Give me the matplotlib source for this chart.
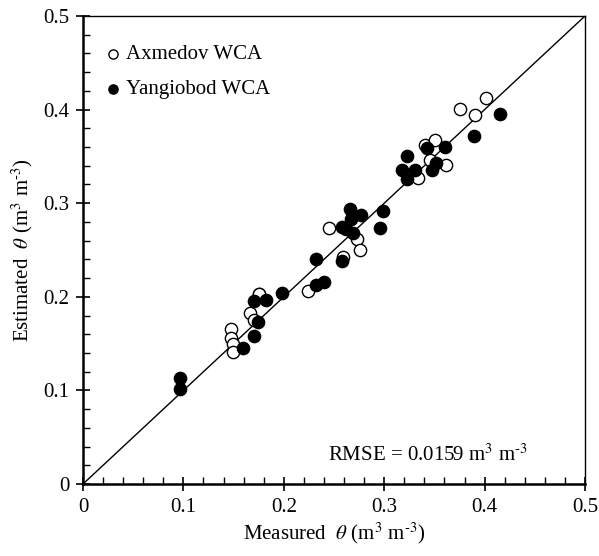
import matplotlib
matplotlib.use("Agg")
import matplotlib.pyplot as plt
from matplotlib.ticker import MultipleLocator

plt.rcParams["font.family"] = ["Liberation Serif", "DejaVu Serif"]
plt.rcParams["mathtext.fontset"] = "stix"

# Axmedov WCA (open circles): measured vs estimated soil moisture
axmedov_measured = [0.147, 0.147, 0.149, 0.149, 0.166, 0.170, 0.175, 0.175,
                    0.224, 0.245, 0.259, 0.273, 0.276, 0.334, 0.341, 0.346,
                    0.351, 0.362, 0.376, 0.390, 0.401]
axmedov_estimated = [0.166, 0.156, 0.150, 0.141, 0.183, 0.175, 0.203, 0.203,
                     0.206, 0.274, 0.242, 0.262, 0.250, 0.327, 0.362, 0.346,
                     0.368, 0.341, 0.401, 0.394, 0.412]

# Yangiobod WCA (filled circles)
yangiobod_measured = [0.097, 0.097, 0.159, 0.170, 0.170, 0.174, 0.182, 0.198,
                      0.232, 0.232, 0.240, 0.258, 0.258, 0.262, 0.266, 0.267,
                      0.269, 0.277, 0.296, 0.299, 0.318, 0.323, 0.323, 0.331,
                      0.343, 0.348, 0.352, 0.361, 0.389, 0.415]
yangiobod_estimated = [0.113, 0.101, 0.145, 0.158, 0.196, 0.173, 0.197, 0.204,
                       0.240, 0.213, 0.216, 0.238, 0.275, 0.272, 0.294, 0.283,
                       0.268, 0.287, 0.274, 0.292, 0.335, 0.350, 0.326, 0.336,
                       0.359, 0.335, 0.343, 0.360, 0.372, 0.395]

HY = "\u2010"  # short hyphen for the negative exponent
unit = r"m$^3$ m$^{" + HY + "3}$"
rmse_text = "RMSE = 0.0159 " + unit

fig = plt.figure(figsize=(5.99, 5.56), dpi=100)
ax = fig.add_axes([0.1386, 0.1295, 0.8380, 0.8417])

# 1:1 line
ax.plot([0, 0.5], [0, 0.5], color="black", lw=1.0, zorder=1)

ax.scatter(axmedov_measured, axmedov_estimated, s=78, facecolors="white",
           edgecolors="black", linewidths=1.0, label="Axmedov WCA", zorder=2)
ax.scatter(yangiobod_measured, yangiobod_estimated, s=78, facecolors="black",
           edgecolors="black", linewidths=1.0, label="Yangiobod WCA", zorder=3)

ax.set_xlim(0, 0.5)
ax.set_ylim(0, 0.5)
ax.xaxis.set_major_locator(MultipleLocator(0.1))
ax.yaxis.set_major_locator(MultipleLocator(0.1))
ax.xaxis.set_minor_locator(MultipleLocator(0.02))
ax.yaxis.set_minor_locator(MultipleLocator(0.02))
fmt = plt.FuncFormatter(lambda v, p: "0" if abs(v) < 1e-9 else f"{v:.1f}")
ax.xaxis.set_major_formatter(fmt)
ax.yaxis.set_major_formatter(fmt)

ax.tick_params(which="major", direction="inout", length=10, width=1.2,
               labelsize=15, pad=5, top=False, right=False)
ax.tick_params(which="minor", direction="in", length=5, width=1.0,
               top=False, right=False)
for side in ["left", "bottom"]:
    ax.spines[side].set_linewidth(1.8)
for side in ["top", "right"]:
    ax.spines[side].set_linewidth(1.0)

ax.set_xlabel(r"Measured  $\theta$ (" + unit + ")", fontsize=15, labelpad=3)
ax.set_ylabel(r"Estimated  $\theta$ (" + unit + ")", fontsize=15, labelpad=6)

ax.text(0.343, 0.031, rmse_text, fontsize=15, ha="center", va="center")

leg = ax.legend(loc="upper left", frameon=False, fontsize=15,
                handletextpad=0.1, handlelength=1.0, borderaxespad=0.3,
                labelspacing=0.75, scatterpoints=1, markerscale=0.75,
                bbox_to_anchor=(0.01, 0.97))

fig.savefig("out.png", dpi=100)
